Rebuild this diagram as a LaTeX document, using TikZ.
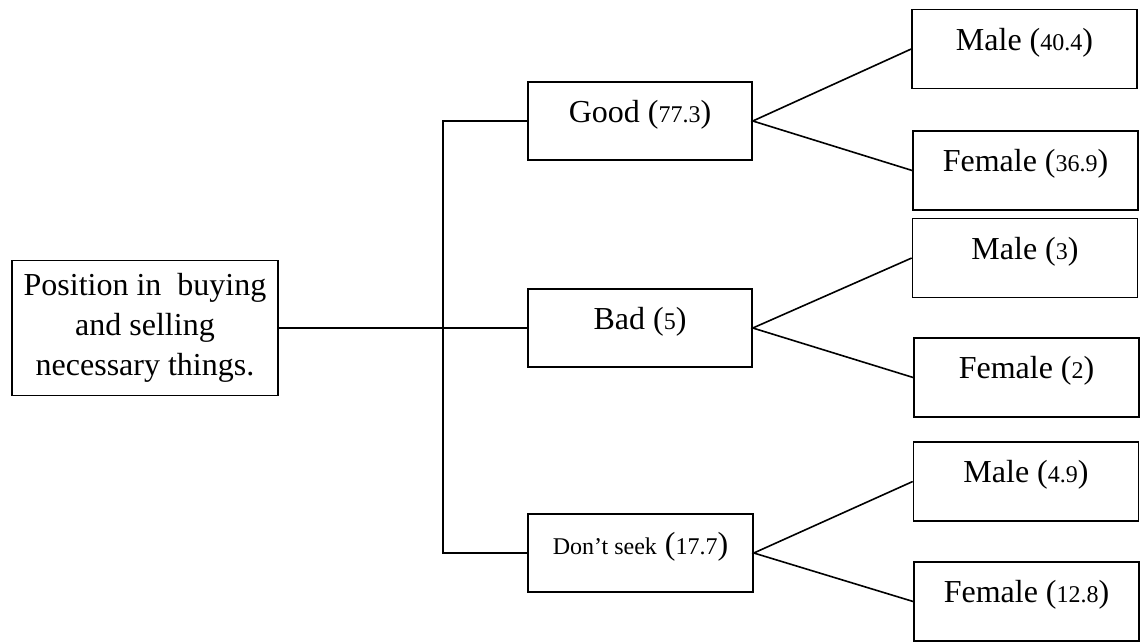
\documentclass[tikz,border=0pt]{standalone}
\usepackage{fontspec}
\setmainfont{Liberation Serif}
\newcommand\numsz[1]{{\fontsize{24}{24}\selectfont #1}}
\begin{document}
\begin{tikzpicture}[x=1pt,y=-1pt,
  every node/.style={line width=1.6pt},
  box/.style={draw, inner sep=0pt, text height=40pt, text depth=38pt,
    font=\fontsize{32}{40}\selectfont},
  midbox/.style={box, minimum width=224pt},
  leafbox/.style={box, minimum width=225pt, text height=40.5pt, text depth=38.5pt},
  rootbox/.style={draw, inner sep=0pt, minimum width=266pt, minimum height=135pt,
    align=center, font=\fontsize{32}{40}\selectfont},
  conn/.style={line width=1.6pt}]
\useasboundingbox (0,0) rectangle (1142,641);
\node[rootbox] (root) at (145,328) {Position in~ buying\\and selling\\necessary things.};
\node[midbox] (good) at (640,121) {Good (\numsz{77.3})};
\node[midbox] (bad) at (640,328) {Bad (\numsz{5})};
\node[midbox, minimum width=225pt] (dont) at (640.5,553) {\numsz{Don’t seek} (\numsz{17.7})};
\node[leafbox] (m1) at (1024.5,49) {Male (\numsz{40.4})};
\node[leafbox] (f1) at (1025.5,170.5) {Female (\numsz{36.9})};
\node[leafbox] (m2) at (1025,258) {Male (\numsz{3})};
\node[leafbox] (f2) at (1026.5,377.5) {Female (\numsz{2})};
\node[leafbox] (m3) at (1026,481.5) {Male (\numsz{4.9})};
\node[leafbox] (f3) at (1026.5,601.5) {Female (\numsz{12.8})};
\coordinate (jt) at (443,121);
\coordinate (jb) at (443,553);
\draw[conn] (good.west) -- (jt) -- (jb) -- (dont.west);
\draw[conn] (root.east) -- (root.east -| jt);
\draw[conn] (bad.west) -- (bad.west -| jt);
\draw[conn] (m1.west) -- (good.east) -- (f1.west);
\draw[conn] (m2.west) -- (bad.east) -- (f2.west);
\draw[conn] (m3.west) -- (dont.east) -- (f3.west);
\end{tikzpicture}
\end{document}
